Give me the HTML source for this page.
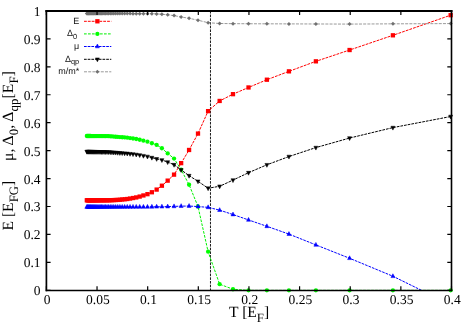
<!DOCTYPE html>
<html><head><meta charset="utf-8"><title>chart</title>
<style>
html,body{margin:0;padding:0;background:#fff;}
body{width:467px;height:327px;position:relative;overflow:hidden;font-family:"Liberation Serif",serif;color:#000;text-rendering:geometricPrecision;}
#tx{position:absolute;left:0;top:0;width:1868px;height:1308px;transform-origin:0 0;transform:scale(0.25);}
.yt{position:absolute;right:1705.6px;font-size:54px;line-height:54px;height:54px;white-space:nowrap;text-align:right;}
.xt{position:absolute;top:1172.4px;font-size:54px;line-height:54px;width:160px;margin-left:-80px;text-align:center;white-space:nowrap;}
.lg{position:absolute;right:1551.2px;font-family:"Liberation Sans",sans-serif;font-size:36px;line-height:40px;height:40px;white-space:nowrap;text-align:right;color:#111;}
.lg sub,.ttl sub{font-size:82%;vertical-align:baseline;position:relative;top:0.36em;line-height:0;}
.ttl{position:absolute;font-size:62.4px;line-height:64px;white-space:nowrap;}
.rot{transform-origin:0 0;transform:rotate(-90deg);}
</style></head><body>
<svg width="467" height="327" viewBox="0 0 467 327" style="position:absolute;left:0;top:0">
<defs><clipPath id="cp"><rect x="46.4" y="10.9" width="405.1" height="279.45000000000005"/></clipPath></defs>
<path d="M210.47 10.9V290.35" stroke="#000" stroke-width="0.9" stroke-dasharray="2.6 1.1" fill="none"/>
<path d="M86.83 200.28L87.51 200.28L88.22 200.28L88.95 200.28L89.71 200.28L90.5 200.28L91.32 200.28L92.16 200.28L93.04 200.28L93.96 200.28L94.91 200.28L95.9 200.28L96.93 200.28L98.01 200.28L99.13 200.28L100.3 200.28L101.53 200.28L102.81 200.28L104.15 200.28L105.56 200.28L107.04 200.28L108.59 200.28L110.23 200.22L111.96 200.15L113.78 200.08L115.7 200L117.74 199.92L119.9 199.74L122.2 199.5L124.64 199.26L127.25 199L130.04 198.56L133.03 198.02L136.23 197.44L139.69 196.57L143.42 195.44L147.46 194.17L151.86 192.25L156.65 189.59L161.9 185.71L167.68 180.64L174.06 174.63L181.15 163.14L189.08 149.97L198 133.58L208.1 111.14L219.65 100.95L232.98 94.17L248.53 87.47L266.9 79.71L288.95 71.35L315.9 61.33L349.59 50.02L392.91 35.31L450.66 15.2" stroke="#ff0000" stroke-width="1" stroke-dasharray="2.8 1.05" fill="none" clip-path="url(#cp)"/>
<rect x="84.68" y="198.13" width="4.3" height="4.3" fill="#ff0000"/>
<rect x="85.36" y="198.13" width="4.3" height="4.3" fill="#ff0000"/>
<rect x="86.07" y="198.13" width="4.3" height="4.3" fill="#ff0000"/>
<rect x="86.8" y="198.13" width="4.3" height="4.3" fill="#ff0000"/>
<rect x="87.56" y="198.13" width="4.3" height="4.3" fill="#ff0000"/>
<rect x="88.35" y="198.13" width="4.3" height="4.3" fill="#ff0000"/>
<rect x="89.17" y="198.13" width="4.3" height="4.3" fill="#ff0000"/>
<rect x="90.01" y="198.13" width="4.3" height="4.3" fill="#ff0000"/>
<rect x="90.89" y="198.13" width="4.3" height="4.3" fill="#ff0000"/>
<rect x="91.81" y="198.13" width="4.3" height="4.3" fill="#ff0000"/>
<rect x="92.76" y="198.13" width="4.3" height="4.3" fill="#ff0000"/>
<rect x="93.75" y="198.13" width="4.3" height="4.3" fill="#ff0000"/>
<rect x="94.78" y="198.13" width="4.3" height="4.3" fill="#ff0000"/>
<rect x="95.86" y="198.13" width="4.3" height="4.3" fill="#ff0000"/>
<rect x="96.98" y="198.13" width="4.3" height="4.3" fill="#ff0000"/>
<rect x="98.15" y="198.13" width="4.3" height="4.3" fill="#ff0000"/>
<rect x="99.38" y="198.13" width="4.3" height="4.3" fill="#ff0000"/>
<rect x="100.66" y="198.13" width="4.3" height="4.3" fill="#ff0000"/>
<rect x="102" y="198.13" width="4.3" height="4.3" fill="#ff0000"/>
<rect x="103.41" y="198.13" width="4.3" height="4.3" fill="#ff0000"/>
<rect x="104.89" y="198.13" width="4.3" height="4.3" fill="#ff0000"/>
<rect x="106.44" y="198.13" width="4.3" height="4.3" fill="#ff0000"/>
<rect x="108.08" y="198.07" width="4.3" height="4.3" fill="#ff0000"/>
<rect x="109.81" y="198" width="4.3" height="4.3" fill="#ff0000"/>
<rect x="111.63" y="197.93" width="4.3" height="4.3" fill="#ff0000"/>
<rect x="113.55" y="197.85" width="4.3" height="4.3" fill="#ff0000"/>
<rect x="115.59" y="197.77" width="4.3" height="4.3" fill="#ff0000"/>
<rect x="117.75" y="197.59" width="4.3" height="4.3" fill="#ff0000"/>
<rect x="120.05" y="197.35" width="4.3" height="4.3" fill="#ff0000"/>
<rect x="122.49" y="197.11" width="4.3" height="4.3" fill="#ff0000"/>
<rect x="125.1" y="196.85" width="4.3" height="4.3" fill="#ff0000"/>
<rect x="127.89" y="196.41" width="4.3" height="4.3" fill="#ff0000"/>
<rect x="130.88" y="195.87" width="4.3" height="4.3" fill="#ff0000"/>
<rect x="134.08" y="195.29" width="4.3" height="4.3" fill="#ff0000"/>
<rect x="137.54" y="194.42" width="4.3" height="4.3" fill="#ff0000"/>
<rect x="141.27" y="193.29" width="4.3" height="4.3" fill="#ff0000"/>
<rect x="145.31" y="192.02" width="4.3" height="4.3" fill="#ff0000"/>
<rect x="149.71" y="190.1" width="4.3" height="4.3" fill="#ff0000"/>
<rect x="154.5" y="187.44" width="4.3" height="4.3" fill="#ff0000"/>
<rect x="159.75" y="183.56" width="4.3" height="4.3" fill="#ff0000"/>
<rect x="165.53" y="178.49" width="4.3" height="4.3" fill="#ff0000"/>
<rect x="171.91" y="172.48" width="4.3" height="4.3" fill="#ff0000"/>
<rect x="179" y="160.99" width="4.3" height="4.3" fill="#ff0000"/>
<rect x="186.93" y="147.82" width="4.3" height="4.3" fill="#ff0000"/>
<rect x="195.85" y="131.43" width="4.3" height="4.3" fill="#ff0000"/>
<rect x="205.95" y="108.99" width="4.3" height="4.3" fill="#ff0000"/>
<rect x="217.5" y="98.8" width="4.3" height="4.3" fill="#ff0000"/>
<rect x="230.83" y="92.02" width="4.3" height="4.3" fill="#ff0000"/>
<rect x="246.38" y="85.32" width="4.3" height="4.3" fill="#ff0000"/>
<rect x="264.75" y="77.56" width="4.3" height="4.3" fill="#ff0000"/>
<rect x="286.8" y="69.2" width="4.3" height="4.3" fill="#ff0000"/>
<rect x="313.75" y="59.18" width="4.3" height="4.3" fill="#ff0000"/>
<rect x="347.44" y="47.87" width="4.3" height="4.3" fill="#ff0000"/>
<rect x="390.76" y="33.16" width="4.3" height="4.3" fill="#ff0000"/>
<rect x="448.51" y="13.05" width="4.3" height="4.3" fill="#ff0000"/>
<path d="M86.83 135.99L87.51 136L88.22 136L88.95 136.01L89.71 136.02L90.5 136.02L91.32 136.03L92.16 136.04L93.04 136.05L93.96 136.05L94.91 136.06L95.9 136.07L96.93 136.08L98.01 136.09L99.13 136.1L100.3 136.11L101.53 136.12L102.81 136.13L104.15 136.14L105.56 136.15L107.04 136.16L108.59 136.18L110.23 136.29L111.96 136.43L113.78 136.58L115.7 136.73L117.74 136.89L119.9 137.06L122.2 137.25L124.64 137.44L127.25 137.65L130.04 138.03L133.03 138.51L136.23 139.02L139.69 139.75L143.42 140.66L147.46 141.68L151.86 143.25L156.65 144.96L161.9 148.24L167.68 153.42L174.06 158.53L181.15 169.69L189.08 184.73L198 206.52L208.1 251.7L219.65 284.21L232.98 289.23L248.53 290.35L266.9 290.35L288.95 290.35L315.9 290.35L349.59 290.35L392.91 290.35L450.66 290.35" stroke="#00f000" stroke-width="1" stroke-dasharray="2.7 1.3" fill="none" clip-path="url(#cp)"/>
<circle cx="86.83" cy="135.99" r="2.15" fill="#00ff00"/>
<circle cx="87.51" cy="136" r="2.15" fill="#00ff00"/>
<circle cx="88.22" cy="136" r="2.15" fill="#00ff00"/>
<circle cx="88.95" cy="136.01" r="2.15" fill="#00ff00"/>
<circle cx="89.71" cy="136.02" r="2.15" fill="#00ff00"/>
<circle cx="90.5" cy="136.02" r="2.15" fill="#00ff00"/>
<circle cx="91.32" cy="136.03" r="2.15" fill="#00ff00"/>
<circle cx="92.16" cy="136.04" r="2.15" fill="#00ff00"/>
<circle cx="93.04" cy="136.05" r="2.15" fill="#00ff00"/>
<circle cx="93.96" cy="136.05" r="2.15" fill="#00ff00"/>
<circle cx="94.91" cy="136.06" r="2.15" fill="#00ff00"/>
<circle cx="95.9" cy="136.07" r="2.15" fill="#00ff00"/>
<circle cx="96.93" cy="136.08" r="2.15" fill="#00ff00"/>
<circle cx="98.01" cy="136.09" r="2.15" fill="#00ff00"/>
<circle cx="99.13" cy="136.1" r="2.15" fill="#00ff00"/>
<circle cx="100.3" cy="136.11" r="2.15" fill="#00ff00"/>
<circle cx="101.53" cy="136.12" r="2.15" fill="#00ff00"/>
<circle cx="102.81" cy="136.13" r="2.15" fill="#00ff00"/>
<circle cx="104.15" cy="136.14" r="2.15" fill="#00ff00"/>
<circle cx="105.56" cy="136.15" r="2.15" fill="#00ff00"/>
<circle cx="107.04" cy="136.16" r="2.15" fill="#00ff00"/>
<circle cx="108.59" cy="136.18" r="2.15" fill="#00ff00"/>
<circle cx="110.23" cy="136.29" r="2.15" fill="#00ff00"/>
<circle cx="111.96" cy="136.43" r="2.15" fill="#00ff00"/>
<circle cx="113.78" cy="136.58" r="2.15" fill="#00ff00"/>
<circle cx="115.7" cy="136.73" r="2.15" fill="#00ff00"/>
<circle cx="117.74" cy="136.89" r="2.15" fill="#00ff00"/>
<circle cx="119.9" cy="137.06" r="2.15" fill="#00ff00"/>
<circle cx="122.2" cy="137.25" r="2.15" fill="#00ff00"/>
<circle cx="124.64" cy="137.44" r="2.15" fill="#00ff00"/>
<circle cx="127.25" cy="137.65" r="2.15" fill="#00ff00"/>
<circle cx="130.04" cy="138.03" r="2.15" fill="#00ff00"/>
<circle cx="133.03" cy="138.51" r="2.15" fill="#00ff00"/>
<circle cx="136.23" cy="139.02" r="2.15" fill="#00ff00"/>
<circle cx="139.69" cy="139.75" r="2.15" fill="#00ff00"/>
<circle cx="143.42" cy="140.66" r="2.15" fill="#00ff00"/>
<circle cx="147.46" cy="141.68" r="2.15" fill="#00ff00"/>
<circle cx="151.86" cy="143.25" r="2.15" fill="#00ff00"/>
<circle cx="156.65" cy="144.96" r="2.15" fill="#00ff00"/>
<circle cx="161.9" cy="148.24" r="2.15" fill="#00ff00"/>
<circle cx="167.68" cy="153.42" r="2.15" fill="#00ff00"/>
<circle cx="174.06" cy="158.53" r="2.15" fill="#00ff00"/>
<circle cx="181.15" cy="169.69" r="2.15" fill="#00ff00"/>
<circle cx="189.08" cy="184.73" r="2.15" fill="#00ff00"/>
<circle cx="198" cy="206.52" r="2.15" fill="#00ff00"/>
<circle cx="208.1" cy="251.7" r="2.15" fill="#00ff00"/>
<circle cx="219.65" cy="284.21" r="2.15" fill="#00ff00"/>
<circle cx="232.98" cy="289.23" r="2.15" fill="#00ff00"/>
<circle cx="248.53" cy="290.35" r="2.15" fill="#00ff00"/>
<circle cx="266.9" cy="290.35" r="2.15" fill="#00ff00"/>
<circle cx="288.95" cy="290.35" r="2.15" fill="#00ff00"/>
<circle cx="315.9" cy="290.35" r="2.15" fill="#00ff00"/>
<circle cx="349.59" cy="290.35" r="2.15" fill="#00ff00"/>
<circle cx="392.91" cy="290.35" r="2.15" fill="#00ff00"/>
<circle cx="450.66" cy="290.35" r="2.15" fill="#00ff00"/>
<path d="M86.83 206.99L87.51 206.99L88.22 206.99L88.95 206.98L89.71 206.98L90.5 206.98L91.32 206.98L92.16 206.98L93.04 206.98L93.96 206.97L94.91 206.97L95.9 206.97L96.93 206.97L98.01 206.97L99.13 206.97L100.3 206.96L101.53 206.96L102.81 206.96L104.15 206.96L105.56 206.95L107.04 206.95L108.59 206.95L110.23 206.95L111.96 206.94L113.78 206.94L115.7 206.94L117.74 206.93L119.9 206.93L122.2 206.92L124.64 206.92L127.25 206.91L130.04 206.91L133.03 206.9L136.23 206.9L139.69 206.89L143.42 206.89L147.46 206.88L151.86 206.82L156.65 206.75L161.9 206.68L167.68 206.6L174.06 206.39L181.15 206.15L189.08 206.04L198 206.57L208.1 207.35L219.65 210.16L232.98 214.54L248.53 219.93L266.9 226.32L288.95 234.1L315.9 244.9L349.59 258.27L392.91 276.25L450.66 304.66" stroke="#0000ff" stroke-width="1" stroke-dasharray="2.7 1.0" fill="none" clip-path="url(#cp)"/>
<path d="M86.83 204.49L88.83 208.34L84.83 208.34Z" fill="#0000ff" stroke="#0000ff" stroke-width="0.5"/>
<path d="M87.51 204.49L89.51 208.34L85.51 208.34Z" fill="#0000ff" stroke="#0000ff" stroke-width="0.5"/>
<path d="M88.22 204.49L90.22 208.34L86.22 208.34Z" fill="#0000ff" stroke="#0000ff" stroke-width="0.5"/>
<path d="M88.95 204.48L90.95 208.33L86.95 208.33Z" fill="#0000ff" stroke="#0000ff" stroke-width="0.5"/>
<path d="M89.71 204.48L91.71 208.33L87.71 208.33Z" fill="#0000ff" stroke="#0000ff" stroke-width="0.5"/>
<path d="M90.5 204.48L92.5 208.33L88.5 208.33Z" fill="#0000ff" stroke="#0000ff" stroke-width="0.5"/>
<path d="M91.32 204.48L93.32 208.33L89.32 208.33Z" fill="#0000ff" stroke="#0000ff" stroke-width="0.5"/>
<path d="M92.16 204.48L94.16 208.33L90.16 208.33Z" fill="#0000ff" stroke="#0000ff" stroke-width="0.5"/>
<path d="M93.04 204.48L95.04 208.33L91.04 208.33Z" fill="#0000ff" stroke="#0000ff" stroke-width="0.5"/>
<path d="M93.96 204.47L95.96 208.32L91.96 208.32Z" fill="#0000ff" stroke="#0000ff" stroke-width="0.5"/>
<path d="M94.91 204.47L96.91 208.32L92.91 208.32Z" fill="#0000ff" stroke="#0000ff" stroke-width="0.5"/>
<path d="M95.9 204.47L97.9 208.32L93.9 208.32Z" fill="#0000ff" stroke="#0000ff" stroke-width="0.5"/>
<path d="M96.93 204.47L98.93 208.32L94.93 208.32Z" fill="#0000ff" stroke="#0000ff" stroke-width="0.5"/>
<path d="M98.01 204.47L100.01 208.32L96.01 208.32Z" fill="#0000ff" stroke="#0000ff" stroke-width="0.5"/>
<path d="M99.13 204.47L101.13 208.32L97.13 208.32Z" fill="#0000ff" stroke="#0000ff" stroke-width="0.5"/>
<path d="M100.3 204.46L102.3 208.31L98.3 208.31Z" fill="#0000ff" stroke="#0000ff" stroke-width="0.5"/>
<path d="M101.53 204.46L103.53 208.31L99.53 208.31Z" fill="#0000ff" stroke="#0000ff" stroke-width="0.5"/>
<path d="M102.81 204.46L104.81 208.31L100.81 208.31Z" fill="#0000ff" stroke="#0000ff" stroke-width="0.5"/>
<path d="M104.15 204.46L106.15 208.31L102.15 208.31Z" fill="#0000ff" stroke="#0000ff" stroke-width="0.5"/>
<path d="M105.56 204.45L107.56 208.3L103.56 208.3Z" fill="#0000ff" stroke="#0000ff" stroke-width="0.5"/>
<path d="M107.04 204.45L109.04 208.3L105.04 208.3Z" fill="#0000ff" stroke="#0000ff" stroke-width="0.5"/>
<path d="M108.59 204.45L110.59 208.3L106.59 208.3Z" fill="#0000ff" stroke="#0000ff" stroke-width="0.5"/>
<path d="M110.23 204.45L112.23 208.3L108.23 208.3Z" fill="#0000ff" stroke="#0000ff" stroke-width="0.5"/>
<path d="M111.96 204.44L113.96 208.29L109.96 208.29Z" fill="#0000ff" stroke="#0000ff" stroke-width="0.5"/>
<path d="M113.78 204.44L115.78 208.29L111.78 208.29Z" fill="#0000ff" stroke="#0000ff" stroke-width="0.5"/>
<path d="M115.7 204.44L117.7 208.29L113.7 208.29Z" fill="#0000ff" stroke="#0000ff" stroke-width="0.5"/>
<path d="M117.74 204.43L119.74 208.28L115.74 208.28Z" fill="#0000ff" stroke="#0000ff" stroke-width="0.5"/>
<path d="M119.9 204.43L121.9 208.28L117.9 208.28Z" fill="#0000ff" stroke="#0000ff" stroke-width="0.5"/>
<path d="M122.2 204.42L124.2 208.27L120.2 208.27Z" fill="#0000ff" stroke="#0000ff" stroke-width="0.5"/>
<path d="M124.64 204.42L126.64 208.27L122.64 208.27Z" fill="#0000ff" stroke="#0000ff" stroke-width="0.5"/>
<path d="M127.25 204.41L129.25 208.26L125.25 208.26Z" fill="#0000ff" stroke="#0000ff" stroke-width="0.5"/>
<path d="M130.04 204.41L132.04 208.26L128.04 208.26Z" fill="#0000ff" stroke="#0000ff" stroke-width="0.5"/>
<path d="M133.03 204.4L135.03 208.25L131.03 208.25Z" fill="#0000ff" stroke="#0000ff" stroke-width="0.5"/>
<path d="M136.23 204.4L138.23 208.25L134.23 208.25Z" fill="#0000ff" stroke="#0000ff" stroke-width="0.5"/>
<path d="M139.69 204.39L141.69 208.24L137.69 208.24Z" fill="#0000ff" stroke="#0000ff" stroke-width="0.5"/>
<path d="M143.42 204.39L145.42 208.24L141.42 208.24Z" fill="#0000ff" stroke="#0000ff" stroke-width="0.5"/>
<path d="M147.46 204.38L149.46 208.23L145.46 208.23Z" fill="#0000ff" stroke="#0000ff" stroke-width="0.5"/>
<path d="M151.86 204.32L153.86 208.17L149.86 208.17Z" fill="#0000ff" stroke="#0000ff" stroke-width="0.5"/>
<path d="M156.65 204.25L158.65 208.1L154.65 208.1Z" fill="#0000ff" stroke="#0000ff" stroke-width="0.5"/>
<path d="M161.9 204.18L163.9 208.03L159.9 208.03Z" fill="#0000ff" stroke="#0000ff" stroke-width="0.5"/>
<path d="M167.68 204.1L169.68 207.95L165.68 207.95Z" fill="#0000ff" stroke="#0000ff" stroke-width="0.5"/>
<path d="M174.06 203.89L176.06 207.74L172.06 207.74Z" fill="#0000ff" stroke="#0000ff" stroke-width="0.5"/>
<path d="M181.15 203.65L183.15 207.5L179.15 207.5Z" fill="#0000ff" stroke="#0000ff" stroke-width="0.5"/>
<path d="M189.08 203.54L191.08 207.39L187.08 207.39Z" fill="#0000ff" stroke="#0000ff" stroke-width="0.5"/>
<path d="M198 204.07L200 207.92L196 207.92Z" fill="#0000ff" stroke="#0000ff" stroke-width="0.5"/>
<path d="M208.1 204.85L210.1 208.7L206.1 208.7Z" fill="#0000ff" stroke="#0000ff" stroke-width="0.5"/>
<path d="M219.65 207.66L221.65 211.51L217.65 211.51Z" fill="#0000ff" stroke="#0000ff" stroke-width="0.5"/>
<path d="M232.98 212.04L234.98 215.89L230.98 215.89Z" fill="#0000ff" stroke="#0000ff" stroke-width="0.5"/>
<path d="M248.53 217.43L250.53 221.28L246.53 221.28Z" fill="#0000ff" stroke="#0000ff" stroke-width="0.5"/>
<path d="M266.9 223.82L268.9 227.67L264.9 227.67Z" fill="#0000ff" stroke="#0000ff" stroke-width="0.5"/>
<path d="M288.95 231.6L290.95 235.45L286.95 235.45Z" fill="#0000ff" stroke="#0000ff" stroke-width="0.5"/>
<path d="M315.9 242.4L317.9 246.25L313.9 246.25Z" fill="#0000ff" stroke="#0000ff" stroke-width="0.5"/>
<path d="M349.59 255.77L351.59 259.62L347.59 259.62Z" fill="#0000ff" stroke="#0000ff" stroke-width="0.5"/>
<path d="M392.91 273.75L394.91 277.6L390.91 277.6Z" fill="#0000ff" stroke="#0000ff" stroke-width="0.5"/>
<path d="M86.83 151.63L87.51 151.64L88.22 151.65L88.95 151.67L89.71 151.68L90.5 151.69L91.32 151.71L92.16 151.72L93.04 151.74L93.96 151.76L94.91 151.77L95.9 151.79L96.93 151.81L98.01 151.83L99.13 151.85L100.3 151.87L101.53 151.89L102.81 151.91L104.15 151.94L105.56 151.96L107.04 151.99L108.59 152.02L110.23 152.14L111.96 152.27L113.78 152.41L115.7 152.57L117.74 152.72L119.9 152.89L122.2 153.07L124.64 153.26L127.25 153.47L130.04 153.77L133.03 154.12L136.23 154.51L139.69 155.05L143.42 155.73L147.46 156.49L151.86 157.63L156.65 158.87L161.9 159.98L167.68 162.08L174.06 164.72L181.15 169.93L189.08 175.67L198 181.31L208.1 188.21L219.65 186.3L232.98 180.1L248.53 172.7L266.9 164.8L288.95 156.55L315.9 147.59L349.59 138.05L392.91 127.61L450.66 116.53" stroke="#000000" stroke-width="1" stroke-dasharray="2.7 1.0" fill="none" clip-path="url(#cp)"/>
<path d="M86.83 154.13L88.83 150.28L84.83 150.28Z" fill="#000000" stroke="#000000" stroke-width="0.5"/>
<path d="M87.51 154.14L89.51 150.29L85.51 150.29Z" fill="#000000" stroke="#000000" stroke-width="0.5"/>
<path d="M88.22 154.15L90.22 150.3L86.22 150.3Z" fill="#000000" stroke="#000000" stroke-width="0.5"/>
<path d="M88.95 154.17L90.95 150.32L86.95 150.32Z" fill="#000000" stroke="#000000" stroke-width="0.5"/>
<path d="M89.71 154.18L91.71 150.33L87.71 150.33Z" fill="#000000" stroke="#000000" stroke-width="0.5"/>
<path d="M90.5 154.19L92.5 150.34L88.5 150.34Z" fill="#000000" stroke="#000000" stroke-width="0.5"/>
<path d="M91.32 154.21L93.32 150.36L89.32 150.36Z" fill="#000000" stroke="#000000" stroke-width="0.5"/>
<path d="M92.16 154.22L94.16 150.37L90.16 150.37Z" fill="#000000" stroke="#000000" stroke-width="0.5"/>
<path d="M93.04 154.24L95.04 150.39L91.04 150.39Z" fill="#000000" stroke="#000000" stroke-width="0.5"/>
<path d="M93.96 154.26L95.96 150.41L91.96 150.41Z" fill="#000000" stroke="#000000" stroke-width="0.5"/>
<path d="M94.91 154.27L96.91 150.42L92.91 150.42Z" fill="#000000" stroke="#000000" stroke-width="0.5"/>
<path d="M95.9 154.29L97.9 150.44L93.9 150.44Z" fill="#000000" stroke="#000000" stroke-width="0.5"/>
<path d="M96.93 154.31L98.93 150.46L94.93 150.46Z" fill="#000000" stroke="#000000" stroke-width="0.5"/>
<path d="M98.01 154.33L100.01 150.48L96.01 150.48Z" fill="#000000" stroke="#000000" stroke-width="0.5"/>
<path d="M99.13 154.35L101.13 150.5L97.13 150.5Z" fill="#000000" stroke="#000000" stroke-width="0.5"/>
<path d="M100.3 154.37L102.3 150.52L98.3 150.52Z" fill="#000000" stroke="#000000" stroke-width="0.5"/>
<path d="M101.53 154.39L103.53 150.54L99.53 150.54Z" fill="#000000" stroke="#000000" stroke-width="0.5"/>
<path d="M102.81 154.41L104.81 150.56L100.81 150.56Z" fill="#000000" stroke="#000000" stroke-width="0.5"/>
<path d="M104.15 154.44L106.15 150.59L102.15 150.59Z" fill="#000000" stroke="#000000" stroke-width="0.5"/>
<path d="M105.56 154.46L107.56 150.61L103.56 150.61Z" fill="#000000" stroke="#000000" stroke-width="0.5"/>
<path d="M107.04 154.49L109.04 150.64L105.04 150.64Z" fill="#000000" stroke="#000000" stroke-width="0.5"/>
<path d="M108.59 154.52L110.59 150.67L106.59 150.67Z" fill="#000000" stroke="#000000" stroke-width="0.5"/>
<path d="M110.23 154.64L112.23 150.79L108.23 150.79Z" fill="#000000" stroke="#000000" stroke-width="0.5"/>
<path d="M111.96 154.77L113.96 150.92L109.96 150.92Z" fill="#000000" stroke="#000000" stroke-width="0.5"/>
<path d="M113.78 154.91L115.78 151.06L111.78 151.06Z" fill="#000000" stroke="#000000" stroke-width="0.5"/>
<path d="M115.7 155.07L117.7 151.22L113.7 151.22Z" fill="#000000" stroke="#000000" stroke-width="0.5"/>
<path d="M117.74 155.22L119.74 151.37L115.74 151.37Z" fill="#000000" stroke="#000000" stroke-width="0.5"/>
<path d="M119.9 155.39L121.9 151.54L117.9 151.54Z" fill="#000000" stroke="#000000" stroke-width="0.5"/>
<path d="M122.2 155.57L124.2 151.72L120.2 151.72Z" fill="#000000" stroke="#000000" stroke-width="0.5"/>
<path d="M124.64 155.76L126.64 151.91L122.64 151.91Z" fill="#000000" stroke="#000000" stroke-width="0.5"/>
<path d="M127.25 155.97L129.25 152.12L125.25 152.12Z" fill="#000000" stroke="#000000" stroke-width="0.5"/>
<path d="M130.04 156.27L132.04 152.42L128.04 152.42Z" fill="#000000" stroke="#000000" stroke-width="0.5"/>
<path d="M133.03 156.62L135.03 152.77L131.03 152.77Z" fill="#000000" stroke="#000000" stroke-width="0.5"/>
<path d="M136.23 157.01L138.23 153.16L134.23 153.16Z" fill="#000000" stroke="#000000" stroke-width="0.5"/>
<path d="M139.69 157.55L141.69 153.7L137.69 153.7Z" fill="#000000" stroke="#000000" stroke-width="0.5"/>
<path d="M143.42 158.23L145.42 154.38L141.42 154.38Z" fill="#000000" stroke="#000000" stroke-width="0.5"/>
<path d="M147.46 158.99L149.46 155.14L145.46 155.14Z" fill="#000000" stroke="#000000" stroke-width="0.5"/>
<path d="M151.86 160.13L153.86 156.28L149.86 156.28Z" fill="#000000" stroke="#000000" stroke-width="0.5"/>
<path d="M156.65 161.37L158.65 157.52L154.65 157.52Z" fill="#000000" stroke="#000000" stroke-width="0.5"/>
<path d="M161.9 162.48L163.9 158.63L159.9 158.63Z" fill="#000000" stroke="#000000" stroke-width="0.5"/>
<path d="M167.68 164.58L169.68 160.73L165.68 160.73Z" fill="#000000" stroke="#000000" stroke-width="0.5"/>
<path d="M174.06 167.22L176.06 163.37L172.06 163.37Z" fill="#000000" stroke="#000000" stroke-width="0.5"/>
<path d="M181.15 172.43L183.15 168.58L179.15 168.58Z" fill="#000000" stroke="#000000" stroke-width="0.5"/>
<path d="M189.08 178.17L191.08 174.32L187.08 174.32Z" fill="#000000" stroke="#000000" stroke-width="0.5"/>
<path d="M198 183.81L200 179.96L196 179.96Z" fill="#000000" stroke="#000000" stroke-width="0.5"/>
<path d="M208.1 190.71L210.1 186.86L206.1 186.86Z" fill="#000000" stroke="#000000" stroke-width="0.5"/>
<path d="M219.65 188.8L221.65 184.95L217.65 184.95Z" fill="#000000" stroke="#000000" stroke-width="0.5"/>
<path d="M232.98 182.6L234.98 178.75L230.98 178.75Z" fill="#000000" stroke="#000000" stroke-width="0.5"/>
<path d="M248.53 175.2L250.53 171.35L246.53 171.35Z" fill="#000000" stroke="#000000" stroke-width="0.5"/>
<path d="M266.9 167.3L268.9 163.45L264.9 163.45Z" fill="#000000" stroke="#000000" stroke-width="0.5"/>
<path d="M288.95 159.05L290.95 155.2L286.95 155.2Z" fill="#000000" stroke="#000000" stroke-width="0.5"/>
<path d="M315.9 150.09L317.9 146.24L313.9 146.24Z" fill="#000000" stroke="#000000" stroke-width="0.5"/>
<path d="M349.59 140.55L351.59 136.7L347.59 136.7Z" fill="#000000" stroke="#000000" stroke-width="0.5"/>
<path d="M392.91 130.11L394.91 126.26L390.91 126.26Z" fill="#000000" stroke="#000000" stroke-width="0.5"/>
<path d="M450.66 119.03L452.66 115.18L448.66 115.18Z" fill="#000000" stroke="#000000" stroke-width="0.5"/>
<path d="M86.83 13.53L87.51 13.53L88.22 13.53L88.95 13.53L89.71 13.53L90.5 13.53L91.32 13.53L92.16 13.54L93.04 13.54L93.96 13.54L94.91 13.54L95.9 13.54L96.93 13.54L98.01 13.54L99.13 13.54L100.3 13.55L101.53 13.55L102.81 13.55L104.15 13.55L105.56 13.55L107.04 13.55L108.59 13.56L110.23 13.56L111.96 13.57L113.78 13.57L115.7 13.58L117.74 13.58L119.9 13.59L122.2 13.6L124.64 13.6L127.25 13.61L130.04 13.62L133.03 13.63L136.23 13.64L139.69 13.65L143.42 13.66L147.46 13.67L151.86 13.7L156.65 13.89L161.9 14.25L167.68 14.84L174.06 15.6L181.15 16.97L189.08 18.3L198 20.21L208.1 22.72L219.65 23.48L232.98 23.67L248.53 23.75L266.9 23.82L288.95 23.89L315.9 23.98L349.59 24.09L392.91 23.84L450.66 23.59" stroke="#9a9a9a" stroke-width="1" stroke-dasharray="3.0 1.2" fill="none" clip-path="url(#cp)"/>
<path d="M86.83 11.53L88.83 13.53L86.83 15.53L84.83 13.53Z" fill="#707070"/>
<path d="M87.51 11.53L89.51 13.53L87.51 15.53L85.51 13.53Z" fill="#707070"/>
<path d="M88.22 11.53L90.22 13.53L88.22 15.53L86.22 13.53Z" fill="#707070"/>
<path d="M88.95 11.53L90.95 13.53L88.95 15.53L86.95 13.53Z" fill="#707070"/>
<path d="M89.71 11.53L91.71 13.53L89.71 15.53L87.71 13.53Z" fill="#707070"/>
<path d="M90.5 11.53L92.5 13.53L90.5 15.53L88.5 13.53Z" fill="#707070"/>
<path d="M91.32 11.53L93.32 13.53L91.32 15.53L89.32 13.53Z" fill="#707070"/>
<path d="M92.16 11.54L94.16 13.54L92.16 15.54L90.16 13.54Z" fill="#707070"/>
<path d="M93.04 11.54L95.04 13.54L93.04 15.54L91.04 13.54Z" fill="#707070"/>
<path d="M93.96 11.54L95.96 13.54L93.96 15.54L91.96 13.54Z" fill="#707070"/>
<path d="M94.91 11.54L96.91 13.54L94.91 15.54L92.91 13.54Z" fill="#707070"/>
<path d="M95.9 11.54L97.9 13.54L95.9 15.54L93.9 13.54Z" fill="#707070"/>
<path d="M96.93 11.54L98.93 13.54L96.93 15.54L94.93 13.54Z" fill="#707070"/>
<path d="M98.01 11.54L100.01 13.54L98.01 15.54L96.01 13.54Z" fill="#707070"/>
<path d="M99.13 11.54L101.13 13.54L99.13 15.54L97.13 13.54Z" fill="#707070"/>
<path d="M100.3 11.55L102.3 13.55L100.3 15.55L98.3 13.55Z" fill="#707070"/>
<path d="M101.53 11.55L103.53 13.55L101.53 15.55L99.53 13.55Z" fill="#707070"/>
<path d="M102.81 11.55L104.81 13.55L102.81 15.55L100.81 13.55Z" fill="#707070"/>
<path d="M104.15 11.55L106.15 13.55L104.15 15.55L102.15 13.55Z" fill="#707070"/>
<path d="M105.56 11.55L107.56 13.55L105.56 15.55L103.56 13.55Z" fill="#707070"/>
<path d="M107.04 11.55L109.04 13.55L107.04 15.55L105.04 13.55Z" fill="#707070"/>
<path d="M108.59 11.56L110.59 13.56L108.59 15.56L106.59 13.56Z" fill="#707070"/>
<path d="M110.23 11.56L112.23 13.56L110.23 15.56L108.23 13.56Z" fill="#707070"/>
<path d="M111.96 11.57L113.96 13.57L111.96 15.57L109.96 13.57Z" fill="#707070"/>
<path d="M113.78 11.57L115.78 13.57L113.78 15.57L111.78 13.57Z" fill="#707070"/>
<path d="M115.7 11.58L117.7 13.58L115.7 15.58L113.7 13.58Z" fill="#707070"/>
<path d="M117.74 11.58L119.74 13.58L117.74 15.58L115.74 13.58Z" fill="#707070"/>
<path d="M119.9 11.59L121.9 13.59L119.9 15.59L117.9 13.59Z" fill="#707070"/>
<path d="M122.2 11.6L124.2 13.6L122.2 15.6L120.2 13.6Z" fill="#707070"/>
<path d="M124.64 11.6L126.64 13.6L124.64 15.6L122.64 13.6Z" fill="#707070"/>
<path d="M127.25 11.61L129.25 13.61L127.25 15.61L125.25 13.61Z" fill="#707070"/>
<path d="M130.04 11.62L132.04 13.62L130.04 15.62L128.04 13.62Z" fill="#707070"/>
<path d="M133.03 11.63L135.03 13.63L133.03 15.63L131.03 13.63Z" fill="#707070"/>
<path d="M136.23 11.64L138.23 13.64L136.23 15.64L134.23 13.64Z" fill="#707070"/>
<path d="M139.69 11.65L141.69 13.65L139.69 15.65L137.69 13.65Z" fill="#707070"/>
<path d="M143.42 11.66L145.42 13.66L143.42 15.66L141.42 13.66Z" fill="#707070"/>
<path d="M147.46 11.67L149.46 13.67L147.46 15.67L145.46 13.67Z" fill="#707070"/>
<path d="M151.86 11.7L153.86 13.7L151.86 15.7L149.86 13.7Z" fill="#707070"/>
<path d="M156.65 11.89L158.65 13.89L156.65 15.89L154.65 13.89Z" fill="#707070"/>
<path d="M161.9 12.25L163.9 14.25L161.9 16.25L159.9 14.25Z" fill="#707070"/>
<path d="M167.68 12.84L169.68 14.84L167.68 16.84L165.68 14.84Z" fill="#707070"/>
<path d="M174.06 13.6L176.06 15.6L174.06 17.6L172.06 15.6Z" fill="#707070"/>
<path d="M181.15 14.97L183.15 16.97L181.15 18.97L179.15 16.97Z" fill="#707070"/>
<path d="M189.08 16.3L191.08 18.3L189.08 20.3L187.08 18.3Z" fill="#707070"/>
<path d="M198 18.21L200 20.21L198 22.21L196 20.21Z" fill="#707070"/>
<path d="M208.1 20.72L210.1 22.72L208.1 24.72L206.1 22.72Z" fill="#707070"/>
<path d="M219.65 21.48L221.65 23.48L219.65 25.48L217.65 23.48Z" fill="#707070"/>
<path d="M232.98 21.67L234.98 23.67L232.98 25.67L230.98 23.67Z" fill="#707070"/>
<path d="M248.53 21.75L250.53 23.75L248.53 25.75L246.53 23.75Z" fill="#707070"/>
<path d="M266.9 21.82L268.9 23.82L266.9 25.82L264.9 23.82Z" fill="#707070"/>
<path d="M288.95 21.89L290.95 23.89L288.95 25.89L286.95 23.89Z" fill="#707070"/>
<path d="M315.9 21.98L317.9 23.98L315.9 25.98L313.9 23.98Z" fill="#707070"/>
<path d="M349.59 22.09L351.59 24.09L349.59 26.09L347.59 24.09Z" fill="#707070"/>
<path d="M392.91 21.84L394.91 23.84L392.91 25.84L390.91 23.84Z" fill="#707070"/>
<path d="M450.66 21.59L452.66 23.59L450.66 25.59L448.66 23.59Z" fill="#707070"/>
<path d="M46.4 10.950000000000001H451.5" stroke="#000" stroke-width="2.0" stroke-linecap="square" fill="none"/>
<path d="M46.4 290.45000000000005H451.5" stroke="#000" stroke-width="1.4" stroke-linecap="square" fill="none"/>
<path d="M46.4 10.9V290.35" stroke="#000" stroke-width="1.7" stroke-linecap="square" fill="none"/>
<path d="M451.5 10.9V290.35" stroke="#000" stroke-width="1.6" stroke-linecap="square" fill="none"/>
<path d="M46.4 290.35v-4.2M46.4 10.9v4.2" stroke="#000" stroke-width="1.2" fill="none"/>
<path d="M97.04 290.35v-4.2M97.04 10.9v4.2" stroke="#000" stroke-width="1.2" fill="none"/>
<path d="M147.68 290.35v-4.2M147.68 10.9v4.2" stroke="#000" stroke-width="1.2" fill="none"/>
<path d="M198.31 290.35v-4.2M198.31 10.9v4.2" stroke="#000" stroke-width="1.2" fill="none"/>
<path d="M248.95 290.35v-4.2M248.95 10.9v4.2" stroke="#000" stroke-width="1.2" fill="none"/>
<path d="M299.59 290.35v-4.2M299.59 10.9v4.2" stroke="#000" stroke-width="1.2" fill="none"/>
<path d="M350.23 290.35v-4.2M350.23 10.9v4.2" stroke="#000" stroke-width="1.2" fill="none"/>
<path d="M400.86 290.35v-4.2M400.86 10.9v4.2" stroke="#000" stroke-width="1.2" fill="none"/>
<path d="M451.5 290.35v-4.2M451.5 10.9v4.2" stroke="#000" stroke-width="1.2" fill="none"/>
<path d="M46.4 290.35h4.2M451.5 290.35h-4.2" stroke="#000" stroke-width="1.2" fill="none"/>
<path d="M46.4 262.41h4.2M451.5 262.41h-4.2" stroke="#000" stroke-width="1.2" fill="none"/>
<path d="M46.4 234.46h4.2M451.5 234.46h-4.2" stroke="#000" stroke-width="1.2" fill="none"/>
<path d="M46.4 206.51h4.2M451.5 206.51h-4.2" stroke="#000" stroke-width="1.2" fill="none"/>
<path d="M46.4 178.57h4.2M451.5 178.57h-4.2" stroke="#000" stroke-width="1.2" fill="none"/>
<path d="M46.4 150.62h4.2M451.5 150.62h-4.2" stroke="#000" stroke-width="1.2" fill="none"/>
<path d="M46.4 122.68h4.2M451.5 122.68h-4.2" stroke="#000" stroke-width="1.2" fill="none"/>
<path d="M46.4 94.73h4.2M451.5 94.73h-4.2" stroke="#000" stroke-width="1.2" fill="none"/>
<path d="M46.4 66.79h4.2M451.5 66.79h-4.2" stroke="#000" stroke-width="1.2" fill="none"/>
<path d="M46.4 38.84h4.2M451.5 38.84h-4.2" stroke="#000" stroke-width="1.2" fill="none"/>
<path d="M46.4 10.9h4.2M451.5 10.9h-4.2" stroke="#000" stroke-width="1.2" fill="none"/>
<path d="M84 21.3H111.3" stroke="#ff0000" stroke-width="1" stroke-dasharray="2.8 1.05" fill="none"/>
<rect x="95.25" y="19.15" width="4.3" height="4.3" fill="#ff0000"/>
<path d="M84 33.9H111.3" stroke="#00f000" stroke-width="1" stroke-dasharray="2.7 1.3" fill="none"/>
<circle cx="97.4" cy="33.9" r="2.15" fill="#00ff00"/>
<path d="M84 46.5H111.3" stroke="#0000ff" stroke-width="1" stroke-dasharray="2.7 1.0" fill="none"/>
<path d="M97.4 44L99.4 47.85L95.4 47.85Z" fill="#0000ff" stroke="#0000ff" stroke-width="0.5"/>
<path d="M84 59.3H111.3" stroke="#000000" stroke-width="1" stroke-dasharray="2.7 1.0" fill="none"/>
<path d="M97.4 61.8L99.4 57.95L95.4 57.95Z" fill="#000000" stroke="#000000" stroke-width="0.5"/>
<path d="M84 71.8H111.3" stroke="#9a9a9a" stroke-width="1" stroke-dasharray="3.0 1.2" fill="none"/>
<path d="M97.4 69.8L99.4 71.8L97.4 73.8L95.4 71.8Z" fill="#707070"/>
</svg>
<div id="tx">
<div class="yt" style="top:1135.8px">0</div>
<div class="yt" style="top:1024.02px">0.1</div>
<div class="yt" style="top:912.24px">0.2</div>
<div class="yt" style="top:800.46px">0.3</div>
<div class="yt" style="top:688.68px">0.4</div>
<div class="yt" style="top:576.9px">0.5</div>
<div class="yt" style="top:465.12px">0.6</div>
<div class="yt" style="top:353.34px">0.7</div>
<div class="yt" style="top:241.56px">0.8</div>
<div class="yt" style="top:129.78px">0.9</div>
<div class="yt" style="top:18px">1</div>
<div class="xt" style="left:188.8px">0</div>
<div class="xt" style="left:391.35px">0.05</div>
<div class="xt" style="left:593.9px">0.1</div>
<div class="xt" style="left:796.45px">0.15</div>
<div class="xt" style="left:999px">0.2</div>
<div class="xt" style="left:1201.55px">0.25</div>
<div class="xt" style="left:1404.1px">0.3</div>
<div class="xt" style="left:1606.65px">0.35</div>
<div class="xt" style="left:1809.2px">0.4</div>
<div class="lg" style="top:62.8px">E</div>
<div class="lg" style="top:113.2px"><span style="padding-right:8.8px">&Delta;<sub>0</sub></span></div>
<div class="lg" style="top:163.6px">&mu;</div>
<div class="lg" style="top:214.8px">&Delta;<sub>qp</sub></div>
<div class="lg" style="top:264.8px">m/m*</div>
<div class="ttl" style="left:916px;top:1216.8px">T [E<sub>F</sub>]</div>
<div class="ttl rot" style="left:0px;top:644px"><span style="letter-spacing:0.4px">&mu;, &Delta;<sub>0</sub>, &Delta;<sub>qp</sub>[E<sub>F</sub>]</span></div>
<div class="ttl rot" style="left:0.8px;top:922px">E [E<sub>FG</sub>]</div>
</div>
</body></html>
